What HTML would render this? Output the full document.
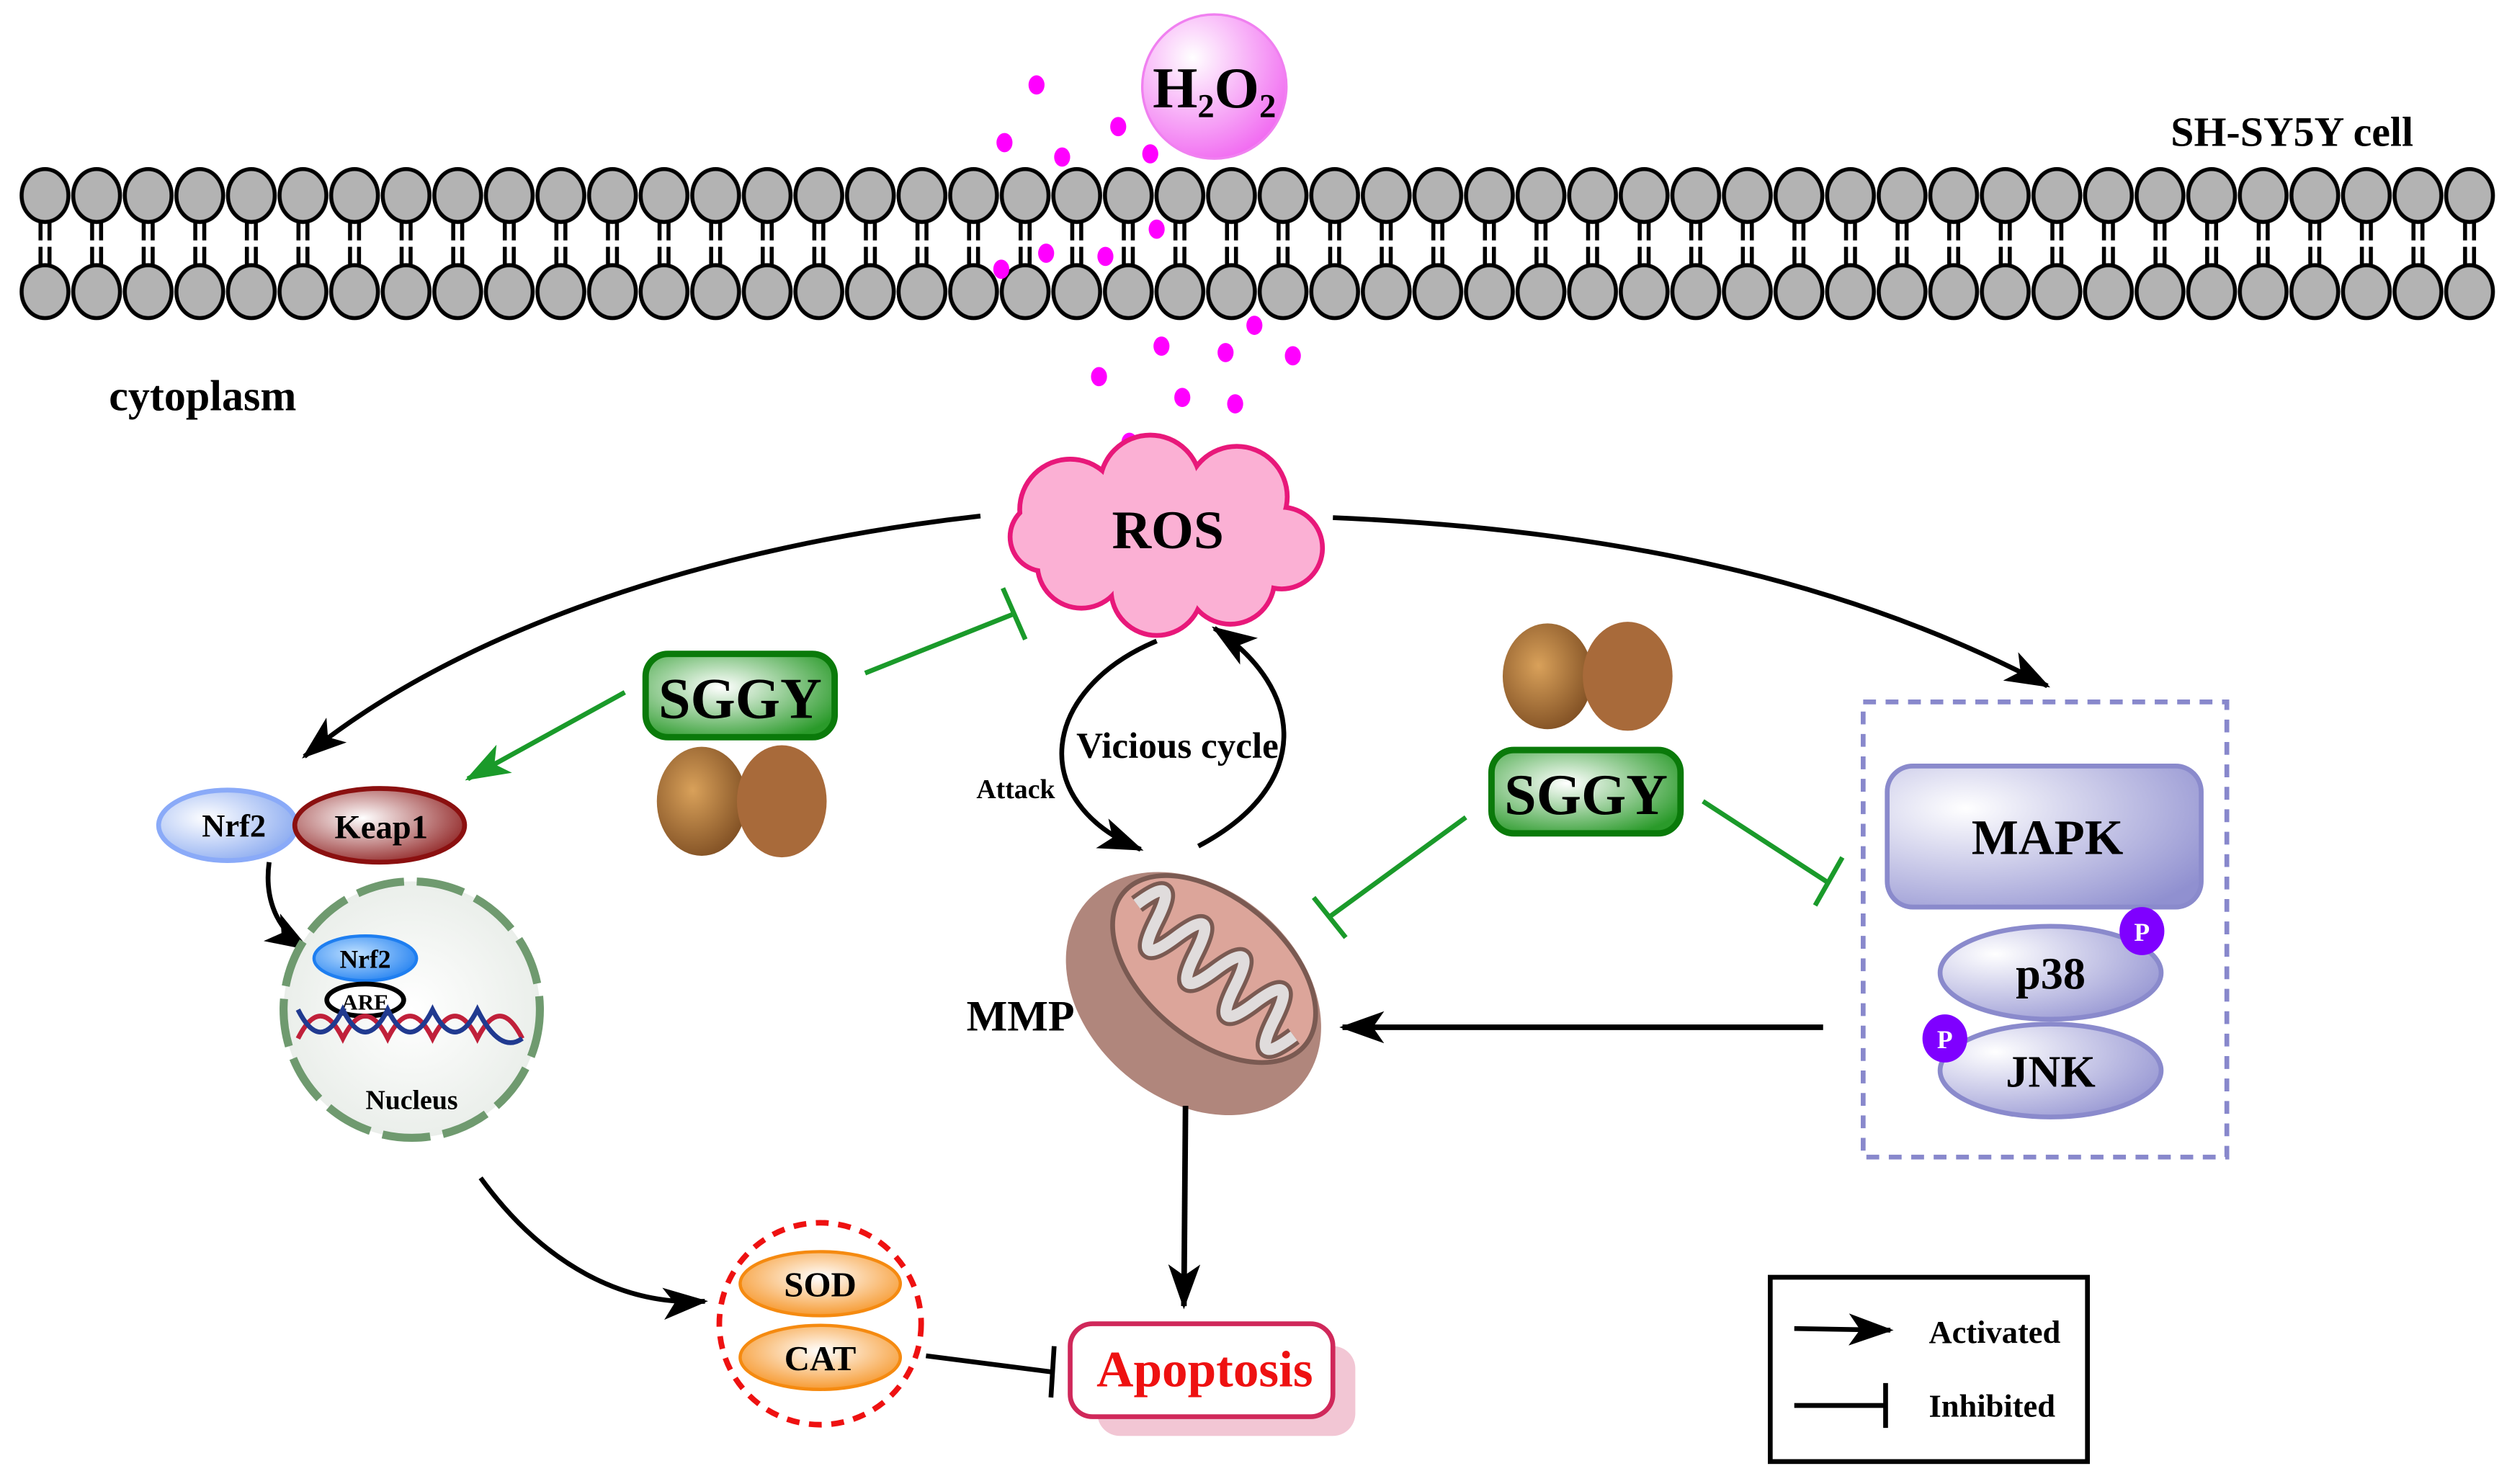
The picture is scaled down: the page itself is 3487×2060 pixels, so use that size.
<!DOCTYPE html>
<html><head><meta charset="utf-8"><style>
html,body{margin:0;padding:0;background:#fff}
svg{display:block}
text{font-family:"Liberation Serif",serif;font-weight:bold}
</style></head><body>
<svg width="3487" height="2060" viewBox="0 0 1568 926" preserveAspectRatio="none" xmlns="http://www.w3.org/2000/svg">
<defs>
<pattern id="mem" patternUnits="userSpaceOnUse" x="12" y="100" width="32.2" height="105">
<g stroke="#000" stroke-width="2.5">
<line x1="13.3" y1="38" x2="13.3" y2="50"/><line x1="18.9" y1="38" x2="18.9" y2="50"/>
<line x1="13.3" y1="54" x2="13.3" y2="66"/><line x1="18.9" y1="54" x2="18.9" y2="66"/>
<ellipse cx="16.1" cy="22" rx="14.6" ry="16.5" fill="#b3b3b3"/>
<ellipse cx="16.1" cy="82" rx="14.6" ry="16.5" fill="#b3b3b3"/>
</g></pattern>
<radialGradient id="h2o2" cx="0.35" cy="0.3" r="0.8"><stop offset="0" stop-color="#fff"/><stop offset="1" stop-color="#f060f0"/></radialGradient>
<radialGradient id="green" cx="0.4" cy="0.4" r="0.7"><stop offset="0" stop-color="#fff"/><stop offset="1" stop-color="#2a9a2a"/></radialGradient>
<radialGradient id="blue" cx="0.35" cy="0.4" r="0.7"><stop offset="0" stop-color="#fff"/><stop offset="1" stop-color="#8aaaf0"/></radialGradient>
<radialGradient id="red" cx="0.4" cy="0.4" r="0.7"><stop offset="0" stop-color="#fff"/><stop offset="1" stop-color="#8b1a1a"/></radialGradient>
<radialGradient id="blue2" cx="0.4" cy="0.4" r="0.7"><stop offset="0" stop-color="#bfe0ff"/><stop offset="1" stop-color="#1e7ef0"/></radialGradient>
<radialGradient id="nuc" cx="0.5" cy="0.5" r="0.6"><stop offset="0" stop-color="#fff"/><stop offset="1" stop-color="#e6ebe6"/></radialGradient>
<radialGradient id="mapk" cx="0.25" cy="0.3" r="0.9"><stop offset="0" stop-color="#fff"/><stop offset="1" stop-color="#9090d0"/></radialGradient>
<radialGradient id="orange" cx="0.5" cy="0.4" r="0.7"><stop offset="0" stop-color="#fff"/><stop offset="1" stop-color="#f58a10"/></radialGradient>
<radialGradient id="nut" cx="0.4" cy="0.4" r="0.7"><stop offset="0" stop-color="#d9a15a"/><stop offset="1" stop-color="#7a4a20"/></radialGradient>
<marker id="arrB" markerWidth="28" markerHeight="20" refX="26" refY="10" orient="auto" markerUnits="userSpaceOnUse" viewBox="0 0 28 20"><path d="M0,0 L28,10 L0,20 L7,10 z" fill="#000"/></marker>
<marker id="arrG" markerWidth="28" markerHeight="20" refX="26" refY="10" orient="auto" markerUnits="userSpaceOnUse" viewBox="0 0 28 20"><path d="M0,0 L28,10 L0,20 L7,10 z" fill="#1a9a2a"/></marker>
</defs>

<rect x="12" y="100" width="1545.6" height="105" fill="url(#mem)"/>

<circle cx="758" cy="54" r="45" fill="url(#h2o2)" stroke="#f080f0" stroke-width="1.5"/>
<text x="758" y="67" font-size="36" text-anchor="middle">H<tspan font-size="21" dy="6">2</tspan><tspan dy="-6">O</tspan><tspan font-size="21" dy="6">2</tspan></text>
<g fill="#ff00ff">
<ellipse cx="647" cy="53" rx="5" ry="6"/><ellipse cx="627" cy="89" rx="5" ry="6"/><ellipse cx="663" cy="98" rx="5" ry="6"/>
<ellipse cx="698" cy="79" rx="5" ry="6"/><ellipse cx="718" cy="96" rx="5" ry="6"/><ellipse cx="722" cy="143" rx="5" ry="6"/>
<ellipse cx="653" cy="158" rx="5" ry="6"/><ellipse cx="690" cy="160" rx="5" ry="6"/><ellipse cx="625" cy="168" rx="5" ry="6"/>
<ellipse cx="783" cy="203" rx="5" ry="6"/><ellipse cx="725" cy="216" rx="5" ry="6"/><ellipse cx="765" cy="220" rx="5" ry="6"/>
<ellipse cx="807" cy="222" rx="5" ry="6"/><ellipse cx="686" cy="235" rx="5" ry="6"/><ellipse cx="738" cy="248" rx="5" ry="6"/>
<ellipse cx="771" cy="252" rx="5" ry="6"/><ellipse cx="705" cy="276" rx="5" ry="6"/>
</g>

<text x="1355" y="91" font-size="26">SH-SY5Y cell</text>
<text x="68" y="256" font-size="27">cytoplasm</text>

<g stroke="#e8187a" stroke-width="6" fill="#fbb0d4">
<circle cx="668" cy="318" r="30"/><circle cx="718" cy="303" r="30"/><circle cx="772" cy="310" r="30"/>
<circle cx="800" cy="342" r="24"/><circle cx="768" cy="362" r="26"/><circle cx="722" cy="368" r="27"/>
<circle cx="675" cy="352" r="26"/><circle cx="652" cy="335" r="20"/>
</g>
<g fill="#fbb0d4">
<circle cx="668" cy="318" r="30"/><circle cx="718" cy="303" r="30"/><circle cx="772" cy="310" r="30"/>
<circle cx="800" cy="342" r="24"/><circle cx="768" cy="362" r="26"/><circle cx="722" cy="368" r="27"/>
<circle cx="675" cy="352" r="26"/><circle cx="652" cy="335" r="20"/><rect x="660" y="310" width="135" height="55"/>
</g>
<text x="729" y="342" font-size="34" text-anchor="middle">ROS</text>

<path d="M612,322 C450,340 290,390 190,472" fill="none" stroke="#000" stroke-width="3" marker-end="url(#arrB)"/>
<path d="M832,323 C1000,330 1150,360 1278,428" fill="none" stroke="#000" stroke-width="3" marker-end="url(#arrB)"/>

<rect x="403" y="408" width="118" height="52" rx="14" fill="url(#green)" stroke="#0a7a0a" stroke-width="4"/>
<text x="462" y="448" font-size="36" text-anchor="middle">SGGY</text>
<ellipse cx="438" cy="500" rx="28" ry="34" fill="url(#nut)"/><ellipse cx="488" cy="500" rx="28" ry="35" fill="#a86a3a"/>
<rect x="931" y="468" width="118" height="52" rx="14" fill="url(#green)" stroke="#0a7a0a" stroke-width="4"/>
<text x="990" y="508" font-size="36" text-anchor="middle">SGGY</text>
<ellipse cx="966" cy="422" rx="28" ry="33" fill="url(#nut)"/><ellipse cx="1016" cy="422" rx="28" ry="34" fill="#a86a3a"/>

<g stroke="#1a9a2a" stroke-width="3" fill="none">
<line x1="540" y1="420" x2="633" y2="383"/><line x1="626" y1="367" x2="640" y2="399"/>
<line x1="390" y1="432" x2="292" y2="486" marker-end="url(#arrG)"/>
<line x1="915" y1="510" x2="830" y2="572"/><line x1="820" y1="560" x2="840" y2="585"/>
<line x1="1063" y1="500" x2="1140" y2="550"/><line x1="1150" y1="535" x2="1133" y2="565"/>
</g>

<ellipse cx="142" cy="515" rx="43" ry="22" fill="url(#blue)" stroke="#8aaaf8" stroke-width="3"/>
<ellipse cx="237" cy="515" rx="53" ry="23" fill="url(#red)" stroke="#8b1010" stroke-width="3"/>
<text x="146" y="522" font-size="20" text-anchor="middle">Nrf2</text>
<text x="238" y="523" font-size="21" text-anchor="middle">Keap1</text>
<path d="M168,538 C165,560 172,580 192,592" fill="none" stroke="#000" stroke-width="3" marker-end="url(#arrB)"/>

<circle cx="257" cy="630" r="80" fill="url(#nuc)"/>
<circle cx="257" cy="630" r="80" fill="none" stroke="#6f9a6f" stroke-width="5" stroke-dasharray="30 8"/>
<ellipse cx="228" cy="598" rx="32" ry="14" fill="url(#blue2)" stroke="#1e7ef0" stroke-width="2"/>
<text x="228" y="604" font-size="16" text-anchor="middle">Nrf2</text>
<ellipse cx="228" cy="624" rx="24" ry="10" fill="#fff" stroke="#000" stroke-width="3"/>
<text x="228" y="630" font-size="14" text-anchor="middle">ARE</text>
<path d="M186,648 Q200,620 214,648 Q228,620 242,648 Q256,620 270,648 Q284,620 298,648 Q312,620 326,648" fill="none" stroke="#c0203a" stroke-width="3"/>
<path d="M186,630 Q200,658 214,630 Q228,658 242,630 Q256,658 270,630 Q284,658 298,630 Q312,658 326,648" fill="none" stroke="#203a90" stroke-width="3"/>
<text x="257" y="692" font-size="17" text-anchor="middle">Nucleus</text>

<path d="M722,400 C650,430 640,500 712,530" fill="none" stroke="#000" stroke-width="3" marker-end="url(#arrB)"/>
<path d="M748,528 C820,490 815,430 758,392" fill="none" stroke="#000" stroke-width="3" marker-end="url(#arrB)"/>
<text x="735" y="473" font-size="23" text-anchor="middle">Vicious cycle</text>
<text x="634" y="498" font-size="17" text-anchor="middle">Attack</text>

<g transform="rotate(40 745 620)">
<ellipse cx="745" cy="620" rx="88" ry="66" fill="#b0867c"/>
<ellipse cx="745" cy="600" rx="74" ry="44" fill="#dca59a" stroke="#7a5a52" stroke-width="3"/>
<path d="M682,600 q8,-34 16,0 q8,34 16,0 q8,-34 16,0 q8,34 16,0 q8,-34 16,0 q8,34 16,0 q8,-34 16,0 q8,34 16,0" fill="none" stroke="#7a5a52" stroke-width="12"/>
<path d="M682,600 q8,-34 16,0 q8,34 16,0 q8,-34 16,0 q8,34 16,0 q8,-34 16,0 q8,34 16,0 q8,-34 16,0 q8,34 16,0" fill="none" stroke="#e0dcdc" stroke-width="7"/>
</g>
<text x="637" y="643" font-size="27" text-anchor="middle">MMP</text>

<line x1="1138" y1="641" x2="838" y2="641" stroke="#000" stroke-width="3.5" marker-end="url(#arrB)"/>
<line x1="740" y1="690" x2="739" y2="815" stroke="#000" stroke-width="3.5" marker-end="url(#arrB)"/>

<rect x="1163" y="438" width="227" height="284" fill="none" stroke="#8888cc" stroke-width="3" stroke-dasharray="8 6"/>
<rect x="1178" y="478" width="196" height="88" rx="16" fill="url(#mapk)" stroke="#8a8acc" stroke-width="3"/>
<text x="1278" y="533" font-size="31" text-anchor="middle">MAPK</text>
<ellipse cx="1280" cy="607" rx="69" ry="29" fill="url(#mapk)" stroke="#8a8acc" stroke-width="3"/>
<text x="1280" y="617" font-size="28" text-anchor="middle">p38</text>
<ellipse cx="1280" cy="668" rx="69" ry="29" fill="url(#mapk)" stroke="#8a8acc" stroke-width="3"/>
<text x="1280" y="678" font-size="28" text-anchor="middle">JNK</text>
<ellipse cx="1337" cy="581" rx="14" ry="15" fill="#7f00ff"/><text x="1337" y="587" font-size="16" fill="#fff" text-anchor="middle">P</text>
<ellipse cx="1214" cy="648" rx="14" ry="15" fill="#7f00ff"/><text x="1214" y="654" font-size="16" fill="#fff" text-anchor="middle">P</text>

<path d="M300,735 C340,790 390,815 440,812" fill="none" stroke="#000" stroke-width="3" marker-end="url(#arrB)"/>
<circle cx="512" cy="826" r="63" fill="none" stroke="#ee1111" stroke-width="3.5" stroke-dasharray="8 6"/>
<ellipse cx="512" cy="801" rx="50" ry="20" fill="url(#orange)" stroke="#f58a10" stroke-width="2"/>
<text x="512" y="809" font-size="22" text-anchor="middle">SOD</text>
<ellipse cx="512" cy="847" rx="50" ry="20" fill="url(#orange)" stroke="#f58a10" stroke-width="2"/>
<text x="512" y="855" font-size="22" text-anchor="middle">CAT</text>
<line x1="578" y1="846" x2="656" y2="856" stroke="#000" stroke-width="3"/>
<line x1="658" y1="840" x2="656" y2="872" stroke="#000" stroke-width="3"/>

<rect x="685" y="840" width="161" height="56" rx="14" fill="#f2c6d4"/>
<rect x="668" y="826" width="164" height="58" rx="14" fill="#fff" stroke="#d0285a" stroke-width="3"/>
<text x="752" y="865" font-size="32" fill="#ee1111" text-anchor="middle">Apoptosis</text>

<rect x="1105" y="797" width="198" height="115" fill="#fff" stroke="#000" stroke-width="3"/>
<line x1="1120" y1="829" x2="1180" y2="830" stroke="#000" stroke-width="3" marker-end="url(#arrB)"/>
<text x="1204" y="838" font-size="20">Activated</text>
<line x1="1120" y1="877" x2="1177" y2="877" stroke="#000" stroke-width="3"/>
<line x1="1177" y1="863" x2="1177" y2="891" stroke="#000" stroke-width="3"/>
<text x="1204" y="884" font-size="20">Inhibited</text>
</svg>
</body></html>
